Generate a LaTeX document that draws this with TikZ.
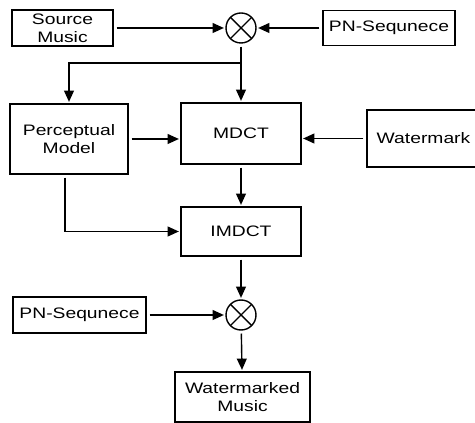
\documentclass[tikz,border=0pt]{standalone}
\usepackage{fontspec}
\setmainfont{Liberation Sans}[FakeStretch=1.27]
\usetikzlibrary{arrows.meta}
\tikzset{blockbox/.style={draw,line width=1pt,align=center,inner sep=0pt,font=\fontsize{10.8}{12.5}\selectfont}}
\tikzset{mixer/.style={draw,circle,line width=1pt,minimum size=0.75cm,inner sep=0pt,
    path picture={\draw[line width=1pt] (path picture bounding box.north west) -- (path picture bounding box.south east)
    (path picture bounding box.south west) -- (path picture bounding box.north east);}}}
\tikzset{flow/.style={line width=1pt,-{Triangle[length=8pt,width=7pt]},shorten <=2pt,shorten >=1pt}}

\begin{document}
\begin{tikzpicture}
            \useasboundingbox (0,0) rectangle (11.875,10.575);
            % setup the nodes
            \node[blockbox,minimum width=2.525cm,minimum height=0.9cm] (src) at (1.5625,9.875) {Source\\Music};
            \node[mixer] (mix1) at (6.025,9.875) {};
            \node[blockbox,minimum width=3.3cm,minimum height=0.875cm] (pn1) at (9.725,9.875) {PN-Sequnece};
            \node[blockbox,minimum width=2.95cm,minimum height=1.75cm] (perc) at (1.725,7.1) {Perceptual\\Model};
            \node[blockbox,minimum width=3cm,minimum height=1.525cm] (mdct) at (6.025,7.2375) {MDCT};
            \node[blockbox,minimum width=2.825cm,minimum height=1.425cm] (wm) at (10.5875,7.1125) {Watermark};
            \node[blockbox,minimum width=3cm,minimum height=1.225cm] (imdct) at (6.025,4.7875) {IMDCT};
            \node[mixer] (mix2) at (6.025,2.7) {};
            \node[blockbox,minimum width=3.325cm,minimum height=0.9cm] (pn2) at (1.9875,2.7) {PN-Sequnece};
            \node[blockbox,minimum width=3.375cm,minimum height=1.25cm] (out) at (6.0625,0.65) {Watermarked\\Music};
            \coordinate (split) at (6.025,9.0);
            % connect the nodes
            \draw[flow] (src) -- (mix1);
            \draw[flow] (pn1) -- (mix1);
            \draw[flow] (mix1) -- (mdct);
            \draw[flow,shorten <=0pt] (split) -| (perc);
            \draw[flow] (perc) -- (perc -| mdct.west);
            \draw[flow] (wm) -- (wm -| mdct.east);
            \draw[flow] (mdct) -- (imdct);
            \draw[flow] ([xshift=-0.1cm]perc.south) |- (imdct);
            \draw[flow] (imdct) -- (mix2);
            \draw[flow] (pn2) -- (mix2);
            \draw[flow] (mix2) -- (out);
        \end{tikzpicture}
\end{document}
